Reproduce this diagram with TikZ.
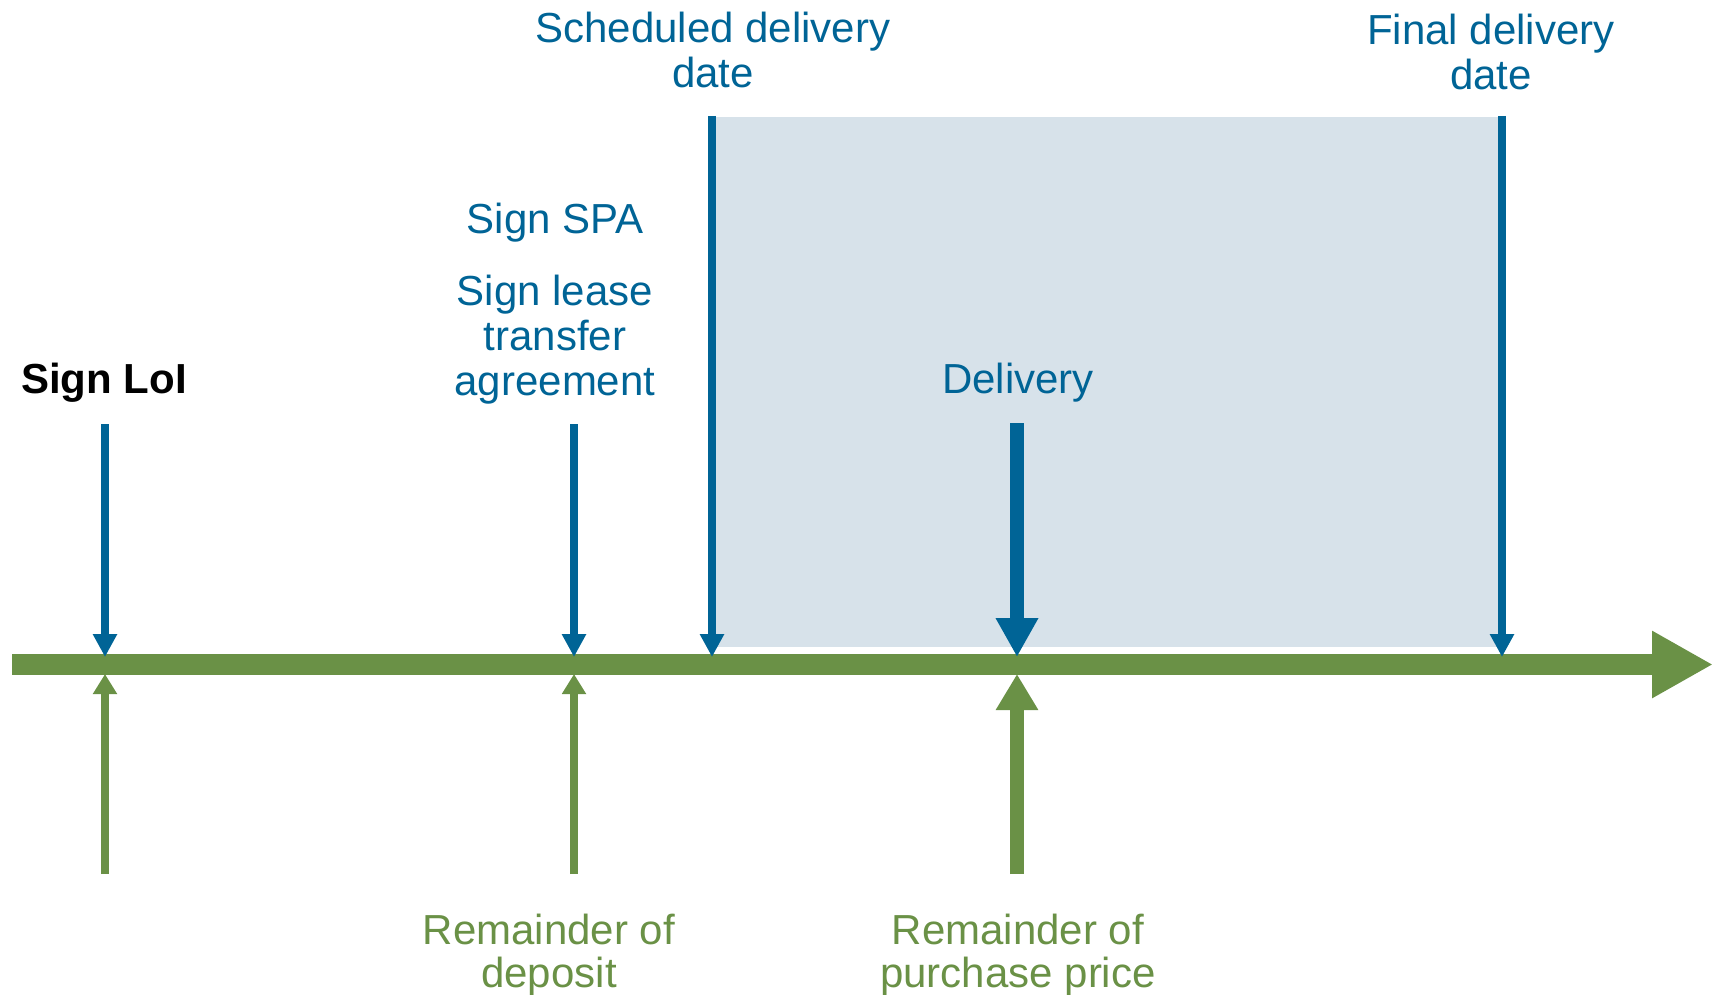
\documentclass[tikz,border=0pt]{standalone}
\usepackage{fontspec}
\setmainfont{Liberation Sans}
\usetikzlibrary{arrows.meta}
\definecolor{evblue}{HTML}{006496}
\definecolor{paygreen}{HTML}{6A9146}
\definecolor{windowfill}{HTML}{D7E2EA}
\begin{document}
\begin{tikzpicture}[x=0.5pt,y=-0.5pt,
  lbl/.style={inner sep=0pt,align=center,anchor=base,font=\fontsize{21}{22.5}\selectfont},
  toplbl/.style={lbl,text=evblue},
  paylbl/.style={lbl,text=paygreen,font=\fontsize{21}{21.5}\selectfont},
  evarrow/.style={draw=evblue,line width=4pt,-{Triangle[length=11.5pt,width=11.5pt]}},
  evbig/.style={draw=evblue,line width=6.75pt,-{Triangle[length=19.5pt,width=20pt]}},
  payarrow/.style={draw=paygreen,line width=4pt,-{Triangle[length=10pt,width=11.5pt]}},
  paybig/.style={draw=paygreen,line width=7pt,-{Triangle[length=18pt,width=20pt]}},
  timeline/.style={draw=paygreen,line width=10.5pt,-{Triangle[length=30.5pt,width=31.5pt]}}]
\useasboundingbox (0,0) rectangle (1713,995);

% window between scheduled and final delivery date
\fill[windowfill] (716,117) rectangle (1498,647);

% time axis
\coordinate (axstart) at (12,664.5);
\coordinate (axend) at (1713,664.5);
\draw[timeline] (axstart) -- (axend);

% event tops and axis points
\coordinate (loiTop) at (105,424);   \coordinate (loiAx) at (105,657);
\coordinate (spaTop) at (574,424);   \coordinate (spaAx) at (574,657);
\coordinate (schTop) at (712,116);   \coordinate (schAx) at (712,657);
\coordinate (delTop) at (1017,423);  \coordinate (delAx) at (1017,657);
\coordinate (finTop) at (1502,116);  \coordinate (finAx) at (1502,657);

% payment points
\coordinate (depBot) at (105,874);   \coordinate (depAx) at (105,674);
\coordinate (remBot) at (574,874);   \coordinate (remAx) at (574,674);
\coordinate (priBot) at (1017,874);  \coordinate (priAx) at (1017,674);

\draw[evarrow] (loiTop) -- (loiAx);
\draw[evarrow] (spaTop) -- (spaAx);
\draw[evarrow] (schTop) -- (schAx);
\draw[evarrow] (finTop) -- (finAx);
\draw[evbig] (delTop) -- (delAx);

\draw[payarrow] (depBot) -- (depAx);
\draw[payarrow] (remBot) -- (remAx);
\draw[paybig] (priBot) -- (priAx);

% labels
\node[lbl,font=\fontsize{21}{22.5}\selectfont\bfseries] (loi) at (104,393) {Sign LoI};
\node[toplbl] (spa) at (555,233) {Sign SPA};
\node[toplbl] (lease) at (555,395) {Sign lease\\transfer\\agreement};
\node[toplbl] (sched) at (713,88) {Scheduled delivery\\date};
\node[toplbl] (final) at (1491,90) {Final delivery\\date};
\node[toplbl] (deliv) at (1018,393) {Delivery};
\node[paylbl] (dep) at (549,987) {Remainder of\\deposit};
\node[paylbl] (price) at (1018,987) {Remainder of\\purchase price};
\end{tikzpicture}
\end{document}
